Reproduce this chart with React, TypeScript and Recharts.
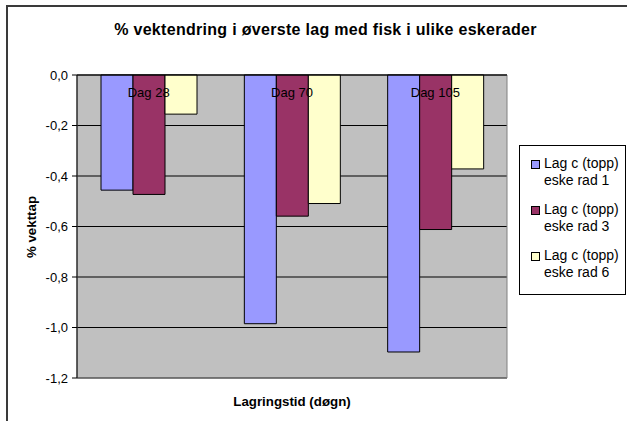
import { Bar, BarChart, CartesianGrid, ReferenceArea, XAxis, YAxis } from 'recharts';

const categories = ['Dag 28', 'Dag 70', 'Dag 105'];
const rad1 = [-0.456, -0.985, -1.097];
const rad3 = [-0.473, -0.559, -0.612];
const rad6 = [-0.155, -0.509, -0.372];
const yTicks = [0, -0.2, -0.4, -0.6, -0.8, -1.0, -1.2];

const series = [
  { key: 'rad1', lines: ['Lag c (topp)', 'eske rad 1'], fill: '#9999FF' },
  { key: 'rad3', lines: ['Lag c (topp)', 'eske rad 3'], fill: '#993366' },
  { key: 'rad6', lines: ['Lag c (topp)', 'eske rad 6'], fill: '#FFFFCC' },
];

const data = categories.map((name, i) => ({
  name,
  rad1: rad1[i],
  rad3: rad3[i],
  rad6: rad6[i],
}));

const FONT = 'Arial, "Liberation Sans", sans-serif';

function fmt(v: number): string {
  return v.toFixed(1).replace('.', ',').replace('-0,0', '0,0');
}

// category labels sit just under the zero line, inside the plot
function DayTick({ x, y, payload }: any) {
  return (
    <text x={x} y={y} dy={22} textAnchor="middle" fill="#000" fontSize={13} fontFamily={FONT}>
      {payload.value}
    </text>
  );
}

export default function App() {
  return (
    <div style={{ position: 'relative', width: 627, height: 421, fontFamily: FONT, background: '#fff', overflow: 'hidden' }}>
      <style>{'body{margin:0}'}</style>
      {/* outer frame, only top and left edges visible */}
      <div
        style={{
          position: 'absolute',
          left: 6,
          top: 5,
          right: -10,
          bottom: -10,
          borderTop: '2px solid #3a3a3a',
          borderLeft: '2px solid #3a3a3a',
        }}
      />
      <div
        style={{
          position: 'absolute',
          left: 0,
          width: 651,
          top: 21,
          textAlign: 'center',
          fontSize: 16,
          letterSpacing: 0.3,
          fontWeight: 'bold',
          whiteSpace: 'nowrap',
        }}
      >
        % vektendring i øverste lag med fisk i ulike eskerader
      </div>
      <div
        style={{
          position: 'absolute',
          left: 31,
          top: 227,
          transform: 'translate(-50%, -50%) rotate(-90deg)',
          fontSize: 13.3,
          fontWeight: 'bold',
          whiteSpace: 'nowrap',
        }}
      >
        % vekttap
      </div>
      <div
        style={{
          position: 'absolute',
          left: 77,
          width: 430,
          top: 394,
          textAlign: 'center',
          fontSize: 13.3,
          fontWeight: 'bold',
        }}
      >
        Lagringstid (døgn)
      </div>

      <div style={{ position: 'absolute', left: 0, top: 0 }}>
        <BarChart
          width={627}
          height={421}
          data={data}
          margin={{ top: 55, right: 120, bottom: 43, left: 7 }}
          barCategoryGap={24}
          barGap={0}
        >
          <CartesianGrid vertical={false} stroke="#000" fill="#C0C0C0" fillOpacity={1} />
          <ReferenceArea y1={-1.2} y2={0} fill="none" stroke="#808080" ifOverflow="visible" />
          <XAxis
            dataKey="name"
            orientation="top"
            height={20}
            axisLine={{ stroke: '#000' }}
            tickLine={false}
            tickSize={0}
            tickMargin={0}
            tick={<DayTick />}
          />
          <YAxis
            type="number"
            domain={[-1.2, 0]}
            ticks={yTicks}
            tickFormatter={fmt}
            width={70}
            axisLine={{ stroke: '#000' }}
            tickLine={{ stroke: '#000' }}
            tickSize={5}
            tickMargin={4}
            tick={{ fill: '#000', fontSize: 13, fontFamily: FONT }}
          />
          {series.map((s) => (
            <Bar key={s.key} dataKey={s.key} fill={s.fill} stroke="#000" strokeWidth={1} isAnimationActive={false} />
          ))}
        </BarChart>
      </div>

      <div
        style={{
          position: 'absolute',
          left: 519,
          top: 145,
          width: 107,
          height: 150,
          boxSizing: 'border-box',
          border: '1px solid #000',
          background: '#fff',
          paddingTop: 9,
        }}
      >
        {series.map((s) => (
          <div key={s.key} style={{ display: 'flex', alignItems: 'flex-start', marginBottom: 12 }}>
            <span
              style={{
                display: 'inline-block',
                flexShrink: 0,
                width: 7,
                height: 7,
                marginLeft: 11,
                marginTop: 5,
                marginRight: 4,
                background: s.fill,
                border: '1px solid #000',
              }}
            />
            <span style={{ fontSize: 14, lineHeight: '17px', whiteSpace: 'nowrap' }}>
              {s.lines[0]}
              <br />
              {s.lines[1]}
            </span>
          </div>
        ))}
      </div>
    </div>
  );
}
